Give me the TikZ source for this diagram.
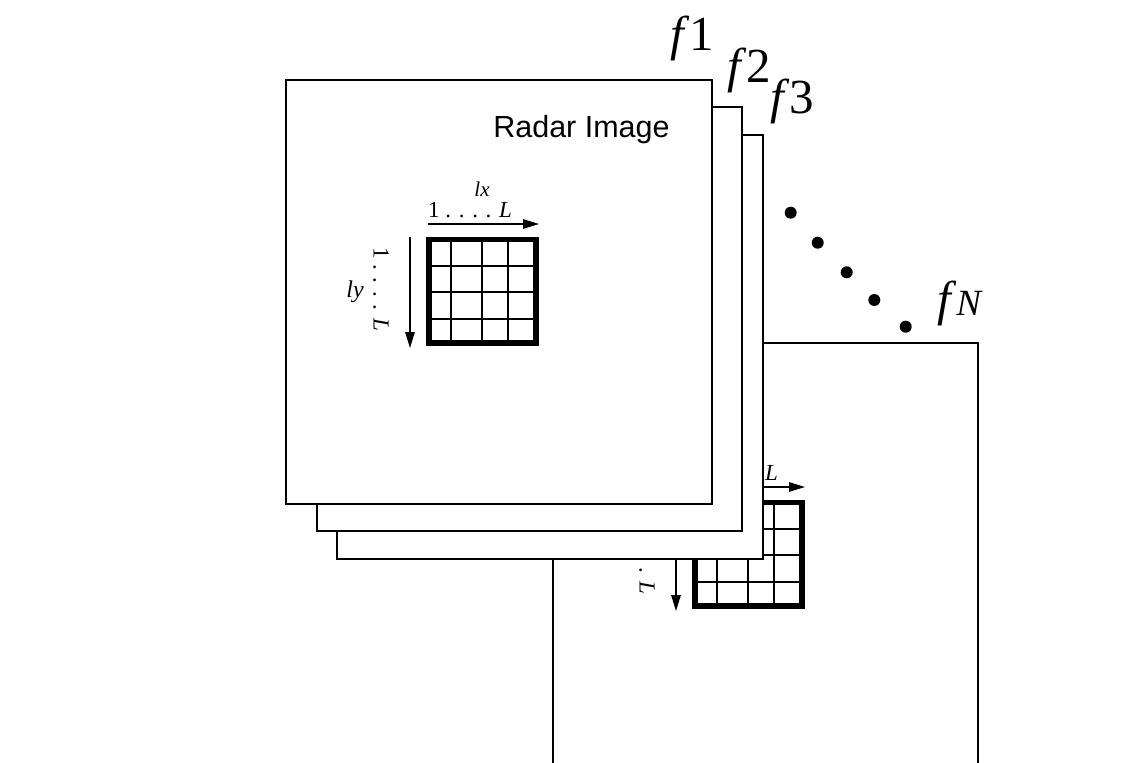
\documentclass[tikz,border=0pt]{standalone}
\usepackage{fontspec}
\setmainfont{Liberation Serif}
\newfontfamily\arialf{Liberation Sans}
\usetikzlibrary{arrows.meta}
\newcommand\windowcontent[1]{%
  \draw[gridthin] (451,240)--(451,343) (482,240)--(482,343) (508,240)--(508,343)
    (429,266)--(536,266) (429,292)--(536,292) (429,319)--(536,319);
  \draw[gridbold] (429,239.5) rectangle (536,343);
  \coordinate (hx0) at (428,224);
  \coordinate (hx1) at (539,224);
  \coordinate (vy0) at (410,237);
  \coordinate (vy1) at (410,348);
  \draw[idxarrow] (hx0) -- (hx1);
  \draw[idxarrow] (vy0) -- (vy1);
  \node[idx,anchor=base west] (hidx) at (428,217) {1 . . . . \textit{L}};
  \node[idx,rotate=-90] (vidx) at (381,289) {1 . . . . \textit{L}};
  \node[lbl] (lxl) at (482,189) {lx};
  #1
}
\begin{document}
\begin{tikzpicture}[x=1pt,y=-1pt,
  frame/.style={draw=black,line width=1.5pt,fill=white},
  gridthin/.style={line width=1.3pt},
  gridbold/.style={line width=5.5pt},
  idxarrow/.style={line width=1.4pt,-{Triangle[length=16pt,width=9.5pt]}},
  lbl/.style={inner sep=0pt,font=\fontsize{21}{25}\selectfont\itshape},
  idx/.style={inner sep=0pt,font=\fontsize{23}{27}\selectfont},
  flabel/.style={inner sep=0pt,anchor=base west,font=\fontsize{49}{56}\selectfont},
  dotm/.style={circle,fill=black,inner sep=0pt,minimum size=12pt}
]
\useasboundingbox (0,0) rectangle (1138,763);
\clip (0,0) rectangle (1138,763);
% frame N (behind)
\begin{scope}[shift={(266,263)},name prefix=n-]
  \draw[frame] (287,80) rectangle (712,504);
  \windowcontent{}
\end{scope}
% frames 3, 2, 1
\draw[frame] (337,135) rectangle (763,559);
\draw[frame] (317,107) rectangle (742,531);
\draw[frame] (286,80) rectangle (712,504);
\windowcontent{\node[lbl,font=\fontsize{24}{28}\selectfont\itshape] (lyl) at (355,292) {ly};}
\node[anchor=base,inner sep=0pt,font=\arialf\fontsize{30.5}{36}\selectfont] (title) at (581.5,137) {Radar Image};
% labels
\node[flabel] (f1) at (670,50) {\textit{f}1};
\node[flabel] (f2) at (727,82) {\textit{f}2};
\node[flabel] (f3) at (770,113) {\textit{f}3};
\node[flabel] (fN) at (937,315) {\textit{f}{\fontsize{37}{44}\selectfont\textit{N}}};
% dots
\node[dotm] (d1) at (790.7,212.7) {};
\node[dotm] (d2) at (817.7,242.7) {};
\node[dotm] (d3) at (846.7,272.3) {};
\node[dotm] (d4) at (874.3,300) {};
\node[dotm] (d5) at (905.7,326.7) {};
\end{tikzpicture}
\end{document}
